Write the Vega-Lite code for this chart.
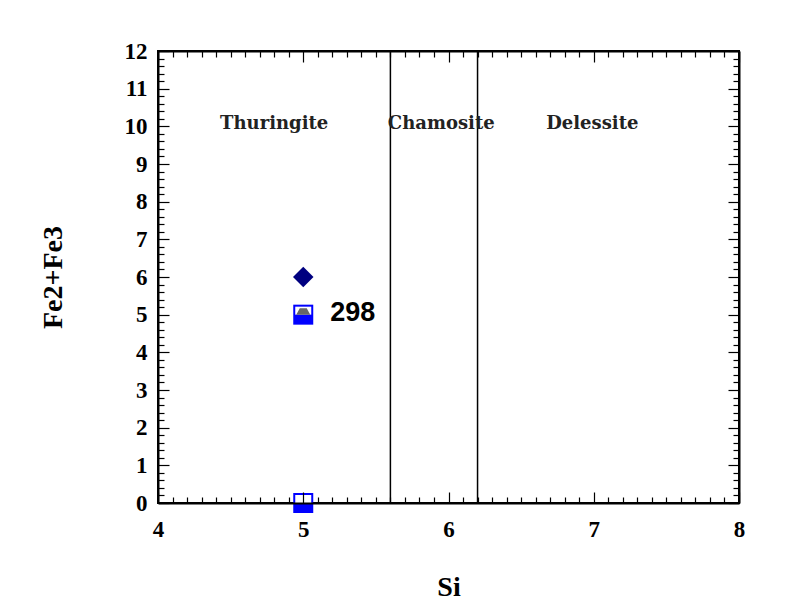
{
  "$schema": "https://vega.github.io/schema/vega-lite/v6.json",
  "width": 581,
  "height": 452,
  "autosize": {"type": "none"},
  "padding": {"left": 158, "top": 51, "right": 59, "bottom": 110},
  "background": "white",
  "config": {
    "view": {"stroke": "black", "strokeWidth": 2},
    "font": "Liberation Serif"
  },
  "datasets": {
    "points": [
      {"Si": 5, "Fe": 6, "marker": "diamond"},
      {"Si": 5, "Fe": 5, "marker": "square"},
      {"Si": 5, "Fe": 0, "marker": "square"},
      {"Si": 5, "Fe": 5, "marker": "triangle"}
    ],
    "bounds": [{"Si": 5.6}, {"Si": 6.2}],
    "regions": [
      {"Si": 4.8, "Fe": 10.05, "name": "Thuringite"},
      {"Si": 5.95, "Fe": 10.05, "name": "Chamosite"},
      {"Si": 6.99, "Fe": 10.05, "name": "Delessite"}
    ],
    "labels": [{"Si": 5, "Fe": 5, "label": "298"}]
  },
  "layer": [
    {
      "data": {"name": "bounds"},
      "mark": {"type": "rule", "color": "black", "strokeWidth": 1.5},
      "encoding": {
        "x": {
          "field": "Si", "type": "quantitative",
          "scale": {"domain": [4, 8], "nice": false, "zero": false},
          "axis": {
            "orient": "bottom", "title": "Si", "zindex": 1,
            "tickCount": 40, "labelFlush": false, "labelOverlap": false,
            "labelExpr": "abs(datum.value - round(datum.value)) < 0.001 ? format(datum.value, 'd') : ''",
            "tickSize": {"condition": {"test": "abs(datum.value - round(datum.value)) < 0.001", "value": -11}, "value": -6},
            "tickColor": "black", "tickWidth": 1.2,
            "domainColor": "black", "domainWidth": 2,
            "labelFont": "Liberation Serif", "labelFontWeight": "bold", "labelFontSize": 23, "labelColor": "black",
            "labelPadding": 26, "grid": false,
            "titleFont": "Liberation Serif", "titleFontWeight": "bold", "titleFontSize": 28, "titleColor": "black",
            "titleY": 92, "titleBaseline": "alphabetic"
          }
        },
        "y": {
          "datum": 0, "type": "quantitative",
          "scale": {"domain": [0, 12], "nice": false},
          "axis": {
            "orient": "left", "title": "Fe2+Fe3", "zindex": 1,
            "tickCount": 60, "labelOverlap": false, "labelFlush": false,
            "labelExpr": "abs(datum.value - round(datum.value)) < 0.001 ? format(datum.value, 'd') : ''",
            "tickSize": {"condition": {"test": "abs(datum.value - round(datum.value)) < 0.001", "value": -11}, "value": -6},
            "tickColor": "black", "tickWidth": 1.2,
            "domainColor": "black", "domainWidth": 2,
            "labelFont": "Liberation Serif", "labelFontWeight": "bold", "labelFontSize": 23, "labelColor": "black",
            "labelPadding": 22, "grid": false,
            "titleFont": "Liberation Serif", "titleFontWeight": "bold", "titleFontSize": 28, "titleColor": "black",
            "titleX": -91, "titleY": 226, "titleAngle": -90, "titleBaseline": "bottom", "titleAlign": "center"
          }
        },
        "y2": {"datum": 12}
      }
    },
    {
      "data": {"name": "bounds"},
      "mark": {"type": "rule", "opacity": 0},
      "encoding": {
        "x": {
          "field": "Si", "type": "quantitative",
          "axis": {
            "orient": "top", "title": null, "labels": false, "zindex": 1,
            "tickCount": 40,
            "tickSize": {"condition": {"test": "abs(datum.value - round(datum.value)) < 0.001", "value": -11}, "value": -6},
            "tickColor": "black", "tickWidth": 1.2,
            "domainColor": "black", "domainWidth": 2, "grid": false
          }
        },
        "y": {
          "datum": 0, "type": "quantitative",
          "axis": {
            "orient": "right", "title": null, "labels": false, "zindex": 1,
            "tickCount": 60,
            "tickSize": {"condition": {"test": "abs(datum.value - round(datum.value)) < 0.001", "value": -11}, "value": -6},
            "tickColor": "black", "tickWidth": 1.2,
            "domainColor": "black", "domainWidth": 2, "grid": false
          }
        }
      }
    },
    {
      "data": {"name": "regions"},
      "mark": {"type": "text", "font": "DejaVu Serif", "fontWeight": "bold", "fontSize": 18, "color": "#222222", "align": "center", "baseline": "middle"},
      "encoding": {
        "x": {"field": "Si", "type": "quantitative", "axis": null},
        "y": {"field": "Fe", "type": "quantitative", "axis": null},
        "text": {"field": "name"}
      }
    },
    {
      "data": {"name": "points"},
      "transform": [{"filter": "datum.marker === 'diamond'"}],
      "mark": {"type": "point", "shape": "diamond", "filled": true, "size": 420, "color": "#000080", "opacity": 1},
      "encoding": {
        "x": {"field": "Si", "type": "quantitative", "axis": null},
        "y": {"field": "Fe", "type": "quantitative", "axis": null}
      }
    },
    {
      "data": {"name": "points"},
      "transform": [{"filter": "datum.marker === 'square'"}],
      "mark": {"type": "point", "shape": "square", "filled": true, "size": 400, "color": "#0000ff", "opacity": 1},
      "encoding": {
        "x": {"field": "Si", "type": "quantitative", "axis": null},
        "y": {"field": "Fe", "type": "quantitative", "axis": null}
      }
    },
    {
      "data": {"name": "points"},
      "transform": [{"filter": "datum.marker === 'square'"}],
      "mark": {"type": "point", "shape": "M-0.8,-0.8H0.8V0H-0.8Z", "filled": true, "size": 400, "color": "white", "opacity": 1},
      "encoding": {
        "x": {"field": "Si", "type": "quantitative", "axis": null},
        "y": {"field": "Fe", "type": "quantitative", "axis": null}
      }
    },
    {
      "data": {"name": "points"},
      "transform": [{"filter": "datum.marker === 'triangle'"}],
      "mark": {"type": "point", "shape": "M-0.7,0L-0.35,-0.65L0.35,-0.65L0.7,0Z", "filled": true, "size": 400, "color": "#666666", "opacity": 1},
      "encoding": {
        "x": {"field": "Si", "type": "quantitative", "axis": null},
        "y": {"field": "Fe", "type": "quantitative", "axis": null}
      }
    },
    {
      "data": {"name": "labels"},
      "mark": {"type": "text", "font": "Liberation Sans", "fontWeight": "bold", "fontSize": 27, "color": "black", "align": "left", "baseline": "middle", "dx": 27, "dy": -2},
      "encoding": {
        "x": {"field": "Si", "type": "quantitative", "axis": null},
        "y": {"field": "Fe", "type": "quantitative", "axis": null},
        "text": {"field": "label"}
      }
    }
  ],
  "resolve": {"axis": {"x": "independent", "y": "independent"}}
}
